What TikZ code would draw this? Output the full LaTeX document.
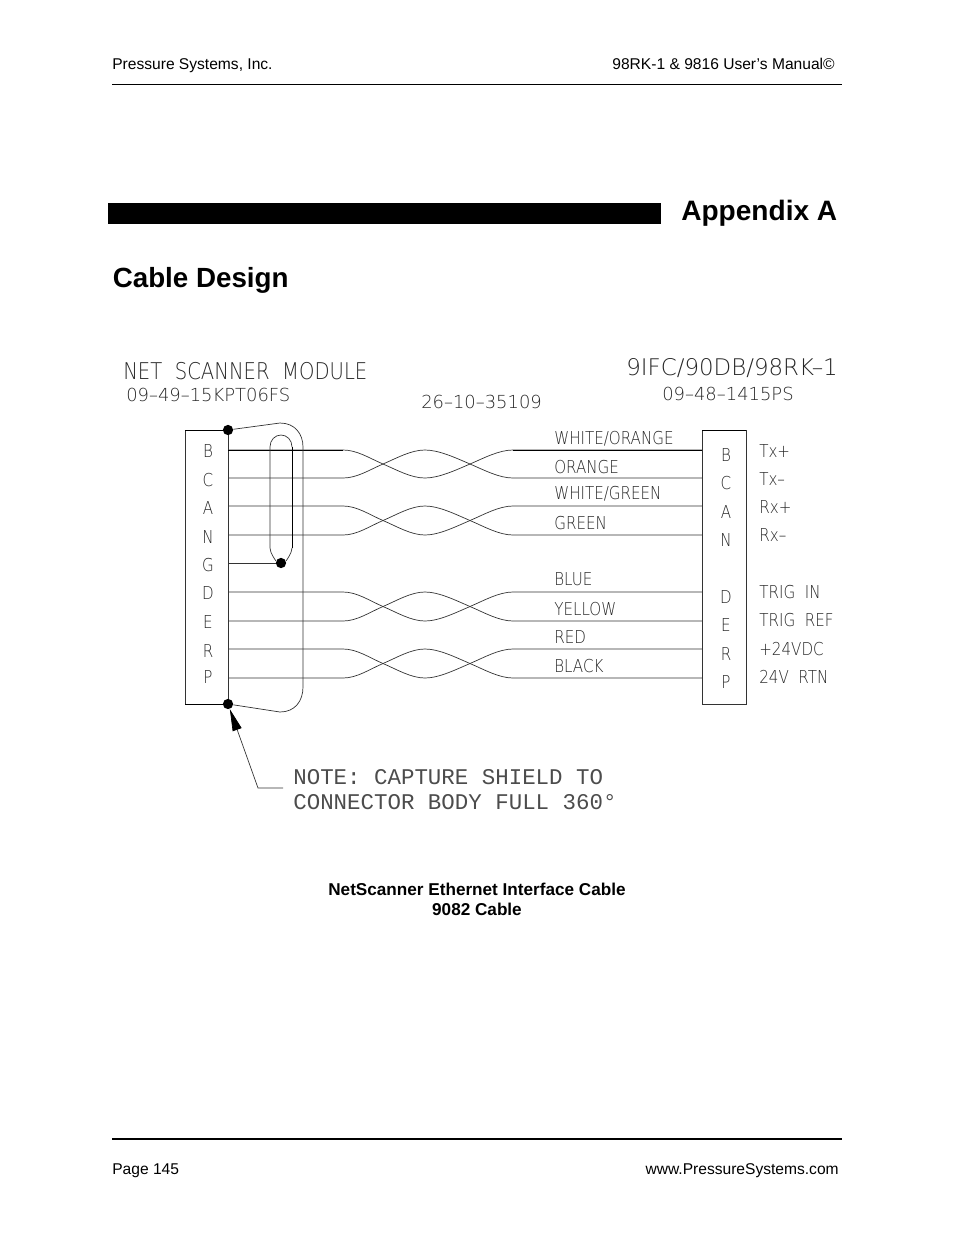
\documentclass[tikz,border=0pt]{standalone}
\usepackage{fontspec}
\setmainfont{Liberation Sans}
\newfontfamily\cadfont{DejaVu Sans ExtraLight}[FakeStretch=0.85]
\newfontfamily\cadwide{DejaVu Sans ExtraLight}
\newfontfamily\notefont{Liberation Mono}
\usetikzlibrary{arrows.meta}

\tikzset{
  x=0.6415pt, y=-0.6415pt,
  hair/.style={line width=0.45pt, black!80},
  heavy/.style={line width=0.62pt, black},
  cad/.style={inner sep=0pt, anchor=west, black!85, font=\cadfont\fontsize{11.4}{11.4}\selectfont},
  partno/.style={cad, font=\cadwide\fontsize{11.5}{11.5}\selectfont},
  cadnote/.style={cad, black!70, font=\notefont\fontsize{14.4}{14.4}\selectfont},
  pin/.style={inner sep=0pt, black!85, font=\cadfont\fontsize{11.4}{11.4}\selectfont},
  page/.style={inner sep=0pt, anchor=base west, font=\fontsize{10}{10}\selectfont},
  heading/.style={page, font=\bfseries\fontsize{18}{18}\selectfont},
  caption/.style={page, anchor=base, font=\bfseries\fontsize{11}{11}\selectfont},
  dot/.style={circle, fill=black, inner sep=0pt, minimum size=6.6pt},
  connbox/.style={draw, hair, minimum height=175.8pt, inner sep=0pt}
}

\begin{document}
\begin{tikzpicture}
  \useasboundingbox (0,0) rectangle (954,1235);

  % page furniture
  \node[page] (company) at (112,69) {Pressure Systems, Inc.};
  \node[page, anchor=base east] (manual) at (835,69) {98RK-1 \& 9816 User’s Manual©};
  \coordinate (headL) at (112,84);
  \coordinate (headR) at (842,84);
  \draw[line width=0.55pt] (headL) -- (headR);

  \fill (108,203) rectangle (661,224);
  \node[heading] (appendix) at (681,220) {Appendix A};
  \node[heading, font=\bfseries\fontsize{17.8}{18}\selectfont] (design) at (112.5,287) {Cable Design};

  % connectors
  \node[connbox, minimum width=27.8pt] (plugL) at (206.7,567) {};
  \node[connbox, minimum width=28.2pt] (plugR) at (724,567) {};
  \draw[heavy] (185,430) -- (228,430);
  \draw[heavy] (185,704) -- (228,704);
  \draw[heavy] (702,430) -- (746,430);

  \node[dot] (shieldT) at (228,430) {};
  \node[dot] (shieldB) at (228,704) {};
  \node[dot] (drain) at (281,563) {};

  \foreach \letter/\ypos in {B/451,C/480,A/508,N/537,G/565,D/593,E/622,R/651,P/677}
    \node[pin] (pinL\letter) at (208,\ypos) {\letter};
  \foreach \letter/\ypos in {B/455,C/483,A/512,N/540,D/597,E/625,R/654,P/682}
    \node[pin] (pinR\letter) at (726,\ypos) {\letter};

  % twisted pairs
  \foreach \pa/\pb/\ya/\yb in {B/C/450/478,A/N/506/535,D/E/592/621,R/P/649/678} {
    \pgfmathsetmacro{\ym}{(\ya+\yb)/2}
    \coordinate (l\pa) at (228,\ya);
    \coordinate (l\pb) at (228,\yb);
    \coordinate (r\pa) at (702,\ya);
    \coordinate (r\pb) at (702,\yb);
    \draw[hair] (l\pa) -- (343,\ya)
      .. controls +(14,0) and +(-14,-6) .. (383,\ym)
      .. controls +(14,6) and +(-14,0) .. (425,\yb)
      .. controls +(14,0) and +(-14,6) .. (470,\ym)
      .. controls +(14,-6) and +(-14,0) .. (513,\ya) -- (r\pa);
    \draw[hair] (l\pb) -- (343,\yb)
      .. controls +(14,0) and +(-14,6) .. (383,\ym)
      .. controls +(14,-6) and +(-14,0) .. (425,\ya)
      .. controls +(14,0) and +(-14,-6) .. (470,\ym)
      .. controls +(14,6) and +(-14,0) .. (513,\yb) -- (r\pb);
  }
  \draw[heavy] (lB) -- (343,450);
  \draw[heavy] (513,450) -- (rB);

  % shield and drain
  \coordinate (lG) at (228,563);
  \draw[hair] (lG) -- (drain);
  \draw[hair] (shieldT) -- (280,423)
    .. controls (295,423) and (303,434) .. (303,447) -- (303,687)
    .. controls (303,701) and (295,712) .. (280,712) -- (shieldB);
  \draw[hair] (drain) .. controls (276,561) and (270,553) .. (270,548) -- (270,447)
    .. controls (270,440) and (275,435) .. (281,435)
    .. controls (287,435) and (292,440) .. (292,447);
  \draw[heavy] (292,447) -- (292,548);
  \draw[hair] (292,548) .. controls (292,553) and (286,561) .. (drain);

  % leader
  \coordinate (noteEnd) at (283,788);
  \coordinate (noteKnee) at (258,788);
  \draw[hair, -{Triangle[length=14pt, width=6pt, black]}] (noteEnd) -- (noteKnee) -- (shieldB);

  % drawing texts
  \node[cad, font=\cadfont\fontsize{14.8}{15}\selectfont] (moduleName) at (123,371) {NET~~SCANNER~~MODULE};
  \node[partno] (modulePart) at (126,395) {09–49–15KPT06FS};
  \node[partno] (cablePart) at (421,402) {26–10–35109};
  \node[cad, font=\cadwide\fontsize{14.7}{15}\selectfont] (boardName) at (626,368) {9IFC/90DB/98RK–1};
  \node[partno] (boardPart) at (662,394) {09–48–1415PS};

  \foreach \wire/\ypos in {{WHITE/ORANGE}/439,ORANGE/467,{WHITE/GREEN}/494,GREEN/523,BLUE/579,YELLOW/609,RED/637,BLACK/666}
    \node[cad] (wire\ypos) at (554,\ypos) {\wire};

  \foreach \signal/\ypos in {Tx+/451,Tx–/479,Rx+/507,Rx–/535,TRIG~~IN/592,TRIG~~REF/620,+24VDC/649,24V~~RTN/677}
    \node[cad] (signal\ypos) at (759,\ypos) {\signal};

  \node[cadnote] (noteA) at (293,777) {NOTE: CAPTURE SHIELD TO};
  \node[cadnote] (noteB) at (293,802) {CONNECTOR BODY FULL 360°};

  % caption and footer
  \node[caption] (captionA) at (477,895) {NetScanner Ethernet Interface Cable};
  \node[caption] (captionB) at (477,915) {9082 Cable};
  \coordinate (footL) at (112,1139);
  \coordinate (footR) at (842,1139);
  \draw[line width=1.2pt] (footL) -- (footR);
  \node[page] (pageNo) at (112,1174) {Page 145};
  \node[page, anchor=base east] (website) at (839,1174) {www.PressureSystems.com};
\end{tikzpicture}
\end{document}
